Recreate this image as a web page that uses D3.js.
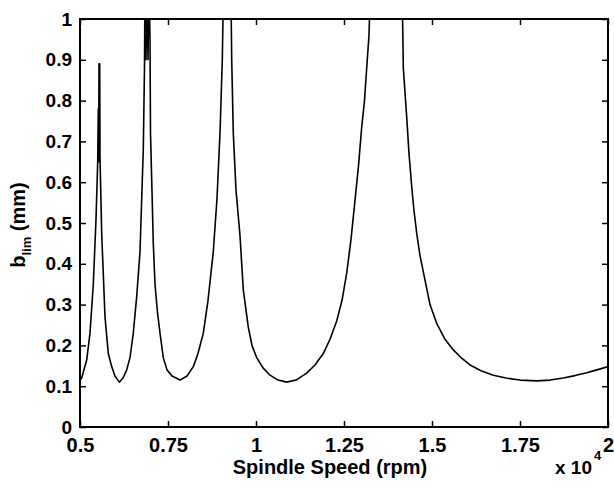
<!DOCTYPE html>
<html>
<head>
<meta charset="utf-8">
<script src="https://cdn.jsdelivr.net/npm/d3@7/dist/d3.min.js"></script>
<style>
  html, body { margin: 0; padding: 0; background: #fff; }
  svg { display: block; }
  text { font-family: "Liberation Sans", Arial, sans-serif; font-weight: bold; fill: #000; }
</style>
</head>
<body>
<svg id="chart" width="614" height="492"></svg>
<script>
// Spindle speed in units of 10^4 rpm
const speed = [
  0.5, 0.5048, 0.519, 0.5284, 0.5378, 0.5455, 0.5503,
  0.5520, 0.5531, 0.5540, 0.5548, 0.5560, 0.5568,
  0.5616, 0.5710, 0.5804, 0.5901, 0.5994, 0.6116, 0.6222, 0.6327, 0.6420,
  0.6514, 0.6611, 0.6705, 0.6798, 0.6832,
  0.6847, 0.6875, 0.6903, 0.6932, 0.6960, 0.6989,
  0.7003, 0.7045, 0.7082, 0.7131, 0.7202, 0.7273, 0.7366, 0.7472, 0.7614,
  0.7841, 0.8040, 0.8219, 0.8352, 0.8503, 0.8636, 0.8787, 0.8892, 0.8977,
  0.9043, 0.9071, 0.9290, 0.9310, 0.9355, 0.9432, 0.9545, 0.9639, 0.9781,
  0.9886, 1.0020, 1.0199, 1.0398, 1.0625, 1.0872, 1.1136, 1.1440, 1.1676,
  1.1912, 1.2102, 1.2293, 1.2443, 1.2577, 1.2699, 1.2813, 1.2912, 1.3003,
  1.3082, 1.3145, 1.3210, 1.3239, 1.4156, 1.4185, 1.4233, 1.4281, 1.4347,
  1.4423, 1.4489, 1.4565, 1.4659, 1.4801, 1.4943, 1.5134, 1.5369, 1.5605,
  1.5852, 1.6080, 1.6392, 1.6741, 1.7102, 1.75, 1.7974, 1.8352, 1.8730,
  1.9062, 1.9395, 1.9688, 2.0
];
// Limiting depth of cut b_lim in mm
const blim = [
  0.115, 0.12, 0.164, 0.23, 0.35, 0.51, 0.65,
  0.78, 0.65, 0.89, 0.70, 0.89, 0.66,
  0.475, 0.27, 0.18, 0.148, 0.125, 0.11, 0.12, 0.14, 0.17,
  0.23, 0.32, 0.43, 0.68, 0.88,
  1.1, 0.9, 1.1, 0.9, 1.1, 0.95,
  0.72, 0.58, 0.45, 0.35, 0.28, 0.23, 0.17, 0.14, 0.125,
  0.115, 0.125, 0.148, 0.18, 0.23, 0.31, 0.43, 0.56, 0.72,
  0.9, 1.05, 1.05, 0.9, 0.72, 0.58, 0.47, 0.336, 0.245,
  0.2, 0.17, 0.145, 0.127, 0.115, 0.11, 0.115, 0.132, 0.152,
  0.18, 0.215, 0.26, 0.31, 0.377, 0.46, 0.556, 0.64, 0.735,
  0.8, 0.88, 0.96, 1.05, 1.05, 0.88, 0.82, 0.76, 0.67,
  0.59, 0.53, 0.475, 0.42, 0.36, 0.30, 0.254, 0.215, 0.189,
  0.168, 0.152, 0.138, 0.127, 0.12, 0.115, 0.113, 0.115, 0.12,
  0.126, 0.133, 0.14, 0.148
];
const xTicks = [0.5, 0.75, 1, 1.25, 1.5, 1.75, 2];
const xTickLabels = ["0.5", "0.75", "1", "1.25", "1.5", "1.75", "2"];
const yTicks = [0, 0.1, 0.2, 0.3, 0.4, 0.5, 0.6, 0.7, 0.8, 0.9, 1];
const yTickLabels = ["0", "0.1", "0.2", "0.3", "0.4", "0.5", "0.6", "0.7", "0.8", "0.9", "1"];

const svg = d3.select("#chart");
const L = 80, R = 608, T = 19, B = 427;
const x = d3.scaleLinear().domain([0.5, 2]).range([L, R]);
const y = d3.scaleLinear().domain([0, 1]).range([B, T]);

svg.append("rect").attr("width", 614).attr("height", 492).attr("fill", "#fff");

svg.append("clipPath").attr("id", "clip")
  .append("rect").attr("x", L).attr("y", T).attr("width", R - L).attr("height", B - T);

const line = d3.line().x((d, i) => x(speed[i])).y(d => y(d));
svg.append("path")
  .datum(blim)
  .attr("clip-path", "url(#clip)")
  .attr("fill", "none")
  .attr("stroke", "#000")
  .attr("stroke-width", 1.6)
  .attr("stroke-linejoin", "round")
  .attr("d", line);

function styleAxis(g) {
  g.select(".domain").remove();
  g.selectAll(".tick line").attr("stroke", "#000").attr("stroke-width", 1.5);
  g.selectAll("text").attr("fill", "#000");
}

svg.append("g").attr("transform", `translate(0,${B})`)
  .call(d3.axisBottom(x).tickValues(xTicks).tickFormat((d, i) => xTickLabels[i])
    .tickSizeInner(-6).tickSizeOuter(0).tickPadding(11))
  .call(styleAxis)
  .selectAll("text").style("font-size", "20px").style("font-family", "'Liberation Sans', Arial, sans-serif").style("font-weight", "bold");

svg.append("g").attr("transform", `translate(0,${T})`)
  .call(d3.axisTop(x).tickValues(xTicks).tickFormat("").tickSizeInner(-6).tickSizeOuter(0))
  .call(styleAxis);

svg.append("g").attr("transform", `translate(${L},0)`)
  .call(d3.axisLeft(y).tickValues(yTicks).tickFormat((d, i) => yTickLabels[i])
    .tickSizeInner(-6).tickSizeOuter(0).tickPadding(8))
  .call(styleAxis)
  .selectAll("text").style("font-size", "19px").style("font-family", "'Liberation Sans', Arial, sans-serif").style("font-weight", "bold");

svg.append("g").attr("transform", `translate(${R},0)`)
  .call(d3.axisRight(y).tickValues(yTicks).tickFormat("").tickSizeInner(-6).tickSizeOuter(0))
  .call(styleAxis);

svg.append("rect")
  .attr("x", L).attr("y", T).attr("width", R - L).attr("height", B - T)
  .attr("fill", "none").attr("stroke", "#000").attr("stroke-width", 2);

svg.append("text")
  .attr("x", 330).attr("y", 474)
  .attr("text-anchor", "middle")
  .style("font-size", "20px")
  .text("Spindle Speed (rpm)");

const yl = svg.append("text")
  .attr("transform", "translate(25,225) rotate(-90)")
  .attr("text-anchor", "middle")
  .style("font-size", "20px");
yl.append("tspan").text("b");
yl.append("tspan").attr("dy", 6).style("font-size", "13px").text("lim");
yl.append("tspan").attr("dy", -6).text(" (mm)");

const ex = svg.append("text")
  .attr("x", 555).attr("y", 474)
  .style("font-size", "19px");
ex.append("tspan").text("x 10");
ex.append("tspan").attr("dy", -14).attr("dx", 2).style("font-size", "13px").text("4");
</script>
</body>
</html>
